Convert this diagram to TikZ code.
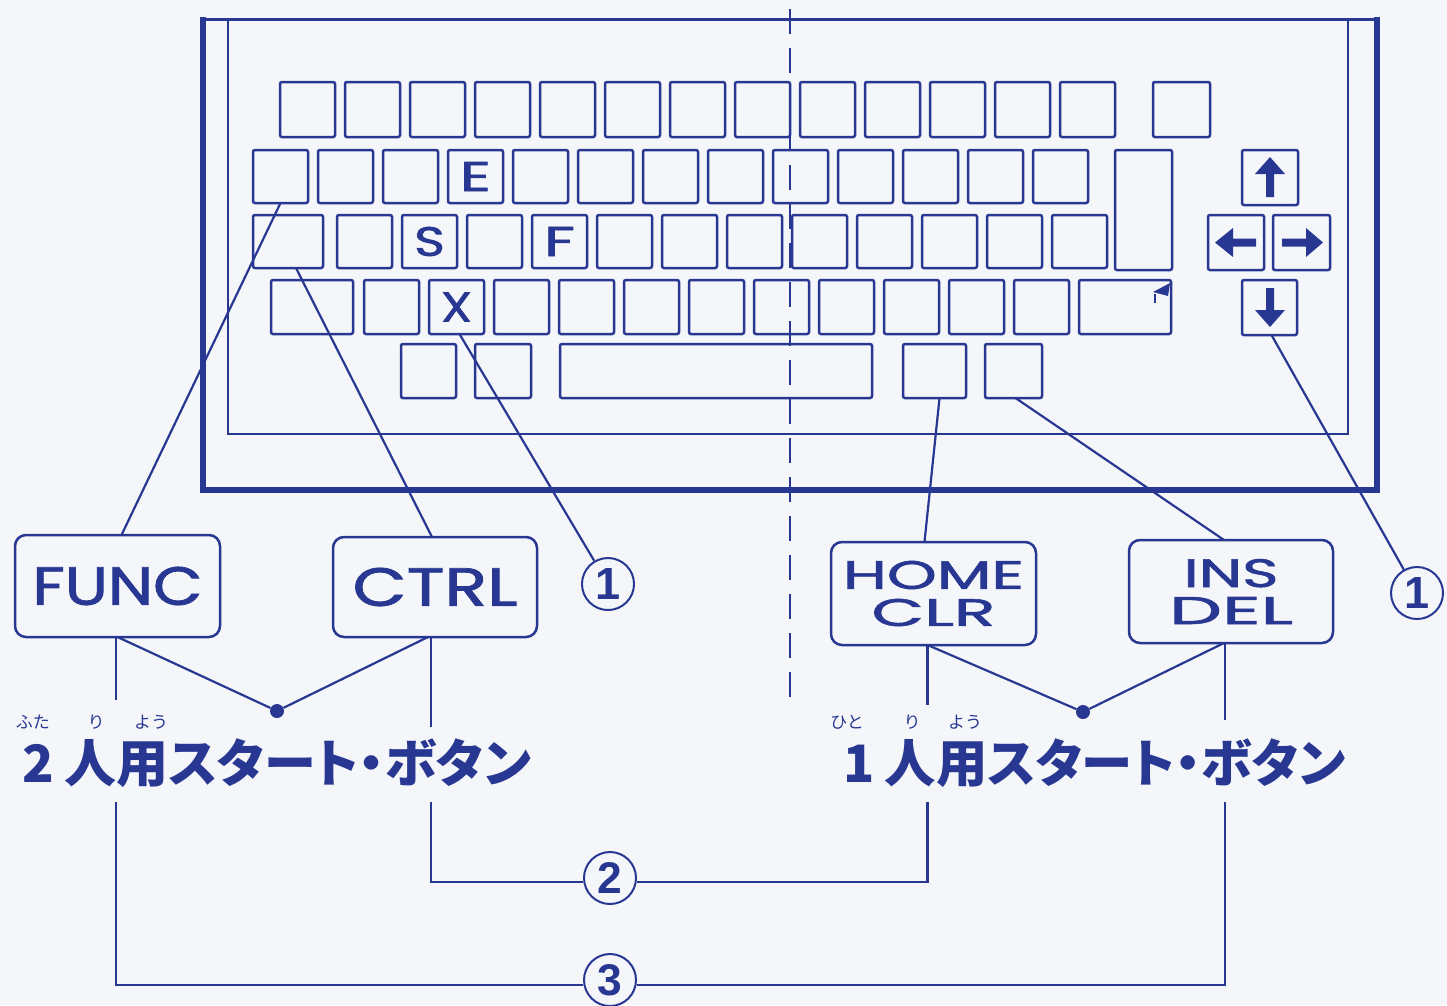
\documentclass[tikz,border=0pt]{standalone}
\usepackage{fontspec}
\usepackage{graphicx}
\usetikzlibrary{calc}
\newfontfamily\geo{Poppins}[FakeBold=1.4]
\newfontfamily\cjk{Noto Sans CJK JP}
\newfontfamily\cjkp{Noto Sans CJK JP}[RawFeature=+palt]
\newfontfamily\dig{Liberation Sans}
\definecolor{ink}{RGB}{40,56,146}
\definecolor{paper}{RGB}{245,246,249}
\tikzset{
  kb/.style={draw=ink, line width=2.5pt, rounded corners=2pt, inner sep=0pt, outer sep=0pt, text=ink},
  lbl/.style={draw=ink, line width=2.5pt, rounded corners=11pt, inner sep=0pt, outer sep=0pt, text=ink,
    align=center, font=\fontsize{30}{37}\selectfont},
  wire/.style={draw=ink, line width=2.2pt},
  num/.style={circle, draw=ink, line width=2pt, fill=paper, minimum size=52pt, inner sep=0pt, text=ink},
  jdot/.style={circle, fill=ink, minimum size=14pt, inner sep=0pt},
  klet/.style={inner sep=0pt, text=ink},
  ruby/.style={anchor=base, inner sep=0pt, text=ink, font=\cjk\fontsize{17}{17}\selectfont},
  jtext/.style={anchor=north west, inner sep=0pt, text=ink},
}
\newcommand\kkey[6]{\node[kb, minimum width={#4-#2}, minimum height={#5-#3}] (#1) at ({(#2+#4)/2},{(#3+#5)/2}) {#6};}
\newcommand\kl[1]{\resizebox{31pt}{29pt}{\geo #1}}
\newcommand\dg[1]{\resizebox{!}{31pt}{\dig\bfseries #1}}
\begin{document}
\begin{tikzpicture}[x=1pt,y=-1pt]
\fill[paper] (0,0) rectangle (1447,1005);
\useasboundingbox (0,0) rectangle (1447,1005);
\clip (0,0) rectangle (1447,1005);

% frame
\draw[ink, line width=6pt] (203,17) -- (203,490) -- (1377,490) -- (1377,17);
\draw[ink, line width=3pt] (200,19) -- (1380,19);
\draw[ink, line width=2.5pt] (228,19) -- (228,434) -- (1348,434) -- (1348,19);

% row 1
\foreach \i in {0,...,12}{\pgfmathsetmacro\xa{280+65*\i}\kkey{r1k\i}{\xa}{82}{\xa+55}{137}{}}
\kkey{r1x}{1153}{82}{1210}{137}{}
% row 2
\foreach \i in {0,...,12}{\pgfmathsetmacro\xa{253+65*\i}\kkey{r2k\i}{\xa}{150}{\xa+55}{203}{}}
\kkey{r2t}{1115}{150}{1172}{270}{}
% row 3
\kkey{r3w}{253}{215}{323}{268}{}
\foreach \i in {0,...,11}{\pgfmathsetmacro\xa{337+65*\i}\kkey{r3k\i}{\xa}{215}{\xa+55}{268}{}}
% row 4
\kkey{r4w}{271}{280}{353}{334}{}
\foreach \i in {0,...,10}{\pgfmathsetmacro\xa{364+65*\i}\kkey{r4k\i}{\xa}{280}{\xa+55}{334}{}}
\kkey{r4e}{1079}{280}{1171}{334}{}
% row 5
\kkey{r5k0}{401}{344}{456}{398}{}
\kkey{r5k1}{475}{344}{531}{398}{}
\kkey{r5k2}{560}{344}{872}{398}{}
\kkey{r5k3}{903}{344}{966}{398}{}
\kkey{r5k4}{985}{344}{1042}{398}{}
% arrow keys
\kkey{kup}{1242}{150}{1298}{205}{}
\kkey{kleft}{1208}{215}{1264}{270}{}
\kkey{kright}{1273}{215}{1330}{270}{}
\kkey{kdown}{1242}{280}{1297}{335}{}
\fill[ink] (1270,157) -- (1285,174) -- (1274,174) -- (1274,197) -- (1266,197) -- (1266,174) -- (1255,174) -- cycle;
\fill[ink] (1270,327) -- (1285,310) -- (1274,310) -- (1274,288) -- (1266,288) -- (1266,310) -- (1255,310) -- cycle;
\fill[ink] (1215,242.5) -- (1233,228) -- (1233,238.5) -- (1256,238.5) -- (1256,246.5) -- (1233,246.5) -- (1233,257) -- cycle;
\fill[ink] (1323,242.5) -- (1306,228) -- (1306,238.5) -- (1282,238.5) -- (1282,246.5) -- (1306,246.5) -- (1306,257) -- cycle;
% small mark on wide key
\fill[ink] (1170,283) -- (1153,292) -- (1168,296) -- cycle;
\draw[ink, line width=2pt] (1155,294) -- (1155,303);

% key letters
\node[klet] (lE) at (r2k3) {\kl{E}};
\node[klet] (lS) at (r3k1) {\kl{S}};
\node[klet] (lF) at (r3k3) {\kl{F}};
\node[klet] (lX) at (r4k1) {\kl{X}};

% label boxes
\node[lbl, minimum width=205, minimum height=102] (func) at (117.5,586) {\resizebox{170pt}{38pt}{\geo FUNC}};
\node[lbl, minimum width=204, minimum height=100] (ctrl) at (435,587) {\resizebox{165pt}{38pt}{\geo CTRL}};
\node[lbl, minimum width=205, minimum height=103] (home) at (933.5,593.5) {\resizebox{181pt}{28pt}{\geo HOME}\\\resizebox{124pt}{27pt}{\geo CLR}};
\node[lbl, minimum width=204, minimum height=103] (ins) at (1231,591.5) {\resizebox{95pt}{28pt}{\geo INS}\\\resizebox{124pt}{27pt}{\geo DEL}};

% circled numbers
\node[num] (n1a) at (608,584) {\dg{1}};
\node[num] (n1b) at (1417,593) {\dg{1}};

% dots
\node[jdot] (d2) at (277,711) {};
\node[jdot] (d1) at (1083,712) {};

% connectors to keyboard
\draw[wire] ($(func.north)+(4,0)$) -- (r2k0.south);
\draw[wire] ($(ctrl.north)+(-3,0)$) -- ($(r3w.south)+(8,0)$);
\draw[wire] (n1a) -- ($(r4k1.south)+(3,0)$);
\draw[wire] ($(home.north)+(-9,0)$) -- ($(r5k3.south)+(5,0)$);
\draw[wire] ($(ins.north)+(-7,0)$) -- ($(r5k4.south)+(2,0)$);
\draw[wire] (n1b) -- ($(kdown.south)+(2,0)$);

% lower connectors
\draw[wire] ($(func.south)+(-1.5,0)$) -- ++(0,63);
\draw[wire] ($(func.south)+(0,0)$) -- (d2);
\draw[wire] ($(ctrl.south)+(-4,0)$) -- ++(0,90);
\draw[wire] ($(ctrl.south)+(-7,0)$) -- (d2);
\draw[wire] ($(home.south)+(-6,0)$) -- ++(0,60);
\draw[wire] ($(home.south)+(-6,0)$) -- (d1);
\draw[wire] ($(ins.south)+(-6,0)$) -- ++(0,77);
\draw[wire] ($(ins.south)+(-7,0)$) -- (d1);

% texts
\node[ruby] (rf1) at (33,728) {ふた};
\node[ruby] (rf2) at (96,728) {り};
\node[ruby] (rf3) at (151,728) {よう};
\node[jtext] (t2) at (22,738) {\resizebox*{509pt}{49pt}{\cjkp\bfseries 2\hspace{0.2em}人用スタート・ボタン}};
\node[ruby] (rh1) at (847,728) {ひと};
\node[ruby] (rh2) at (912,728) {り};
\node[ruby] (rh3) at (965,728) {よう};
\node[jtext] (t1) at (843,738) {\resizebox*{502pt}{49pt}{\cjkp\bfseries 1\hspace{0.2em}人用スタート・ボタン}};

% bottom brackets
\coordinate (c2l) at (431,802);
\coordinate (c2r) at (927.5,802);
\coordinate (c3l) at (116,802);
\coordinate (c3r) at (1225,802);
\node[num] (n2) at (610,878) {\dg{2}};
\node[num] (n3) at (610,980) {\dg{3}};
\draw[wire] (c2l) |- ($(n2.west)+(0,4)$);
\draw[wire] (c2r) |- ($(n2.east)+(0,4)$);
\draw[wire] (c3l) |- ($(n3.west)+(0,5)$);
\draw[wire] (c3r) |- ($(n3.east)+(0,5)$);

% dashed divider
\draw[ink, line width=2.5pt, dash pattern=on 25pt off 14pt] (790,697) -- (790,0);
\end{tikzpicture}
\end{document}
